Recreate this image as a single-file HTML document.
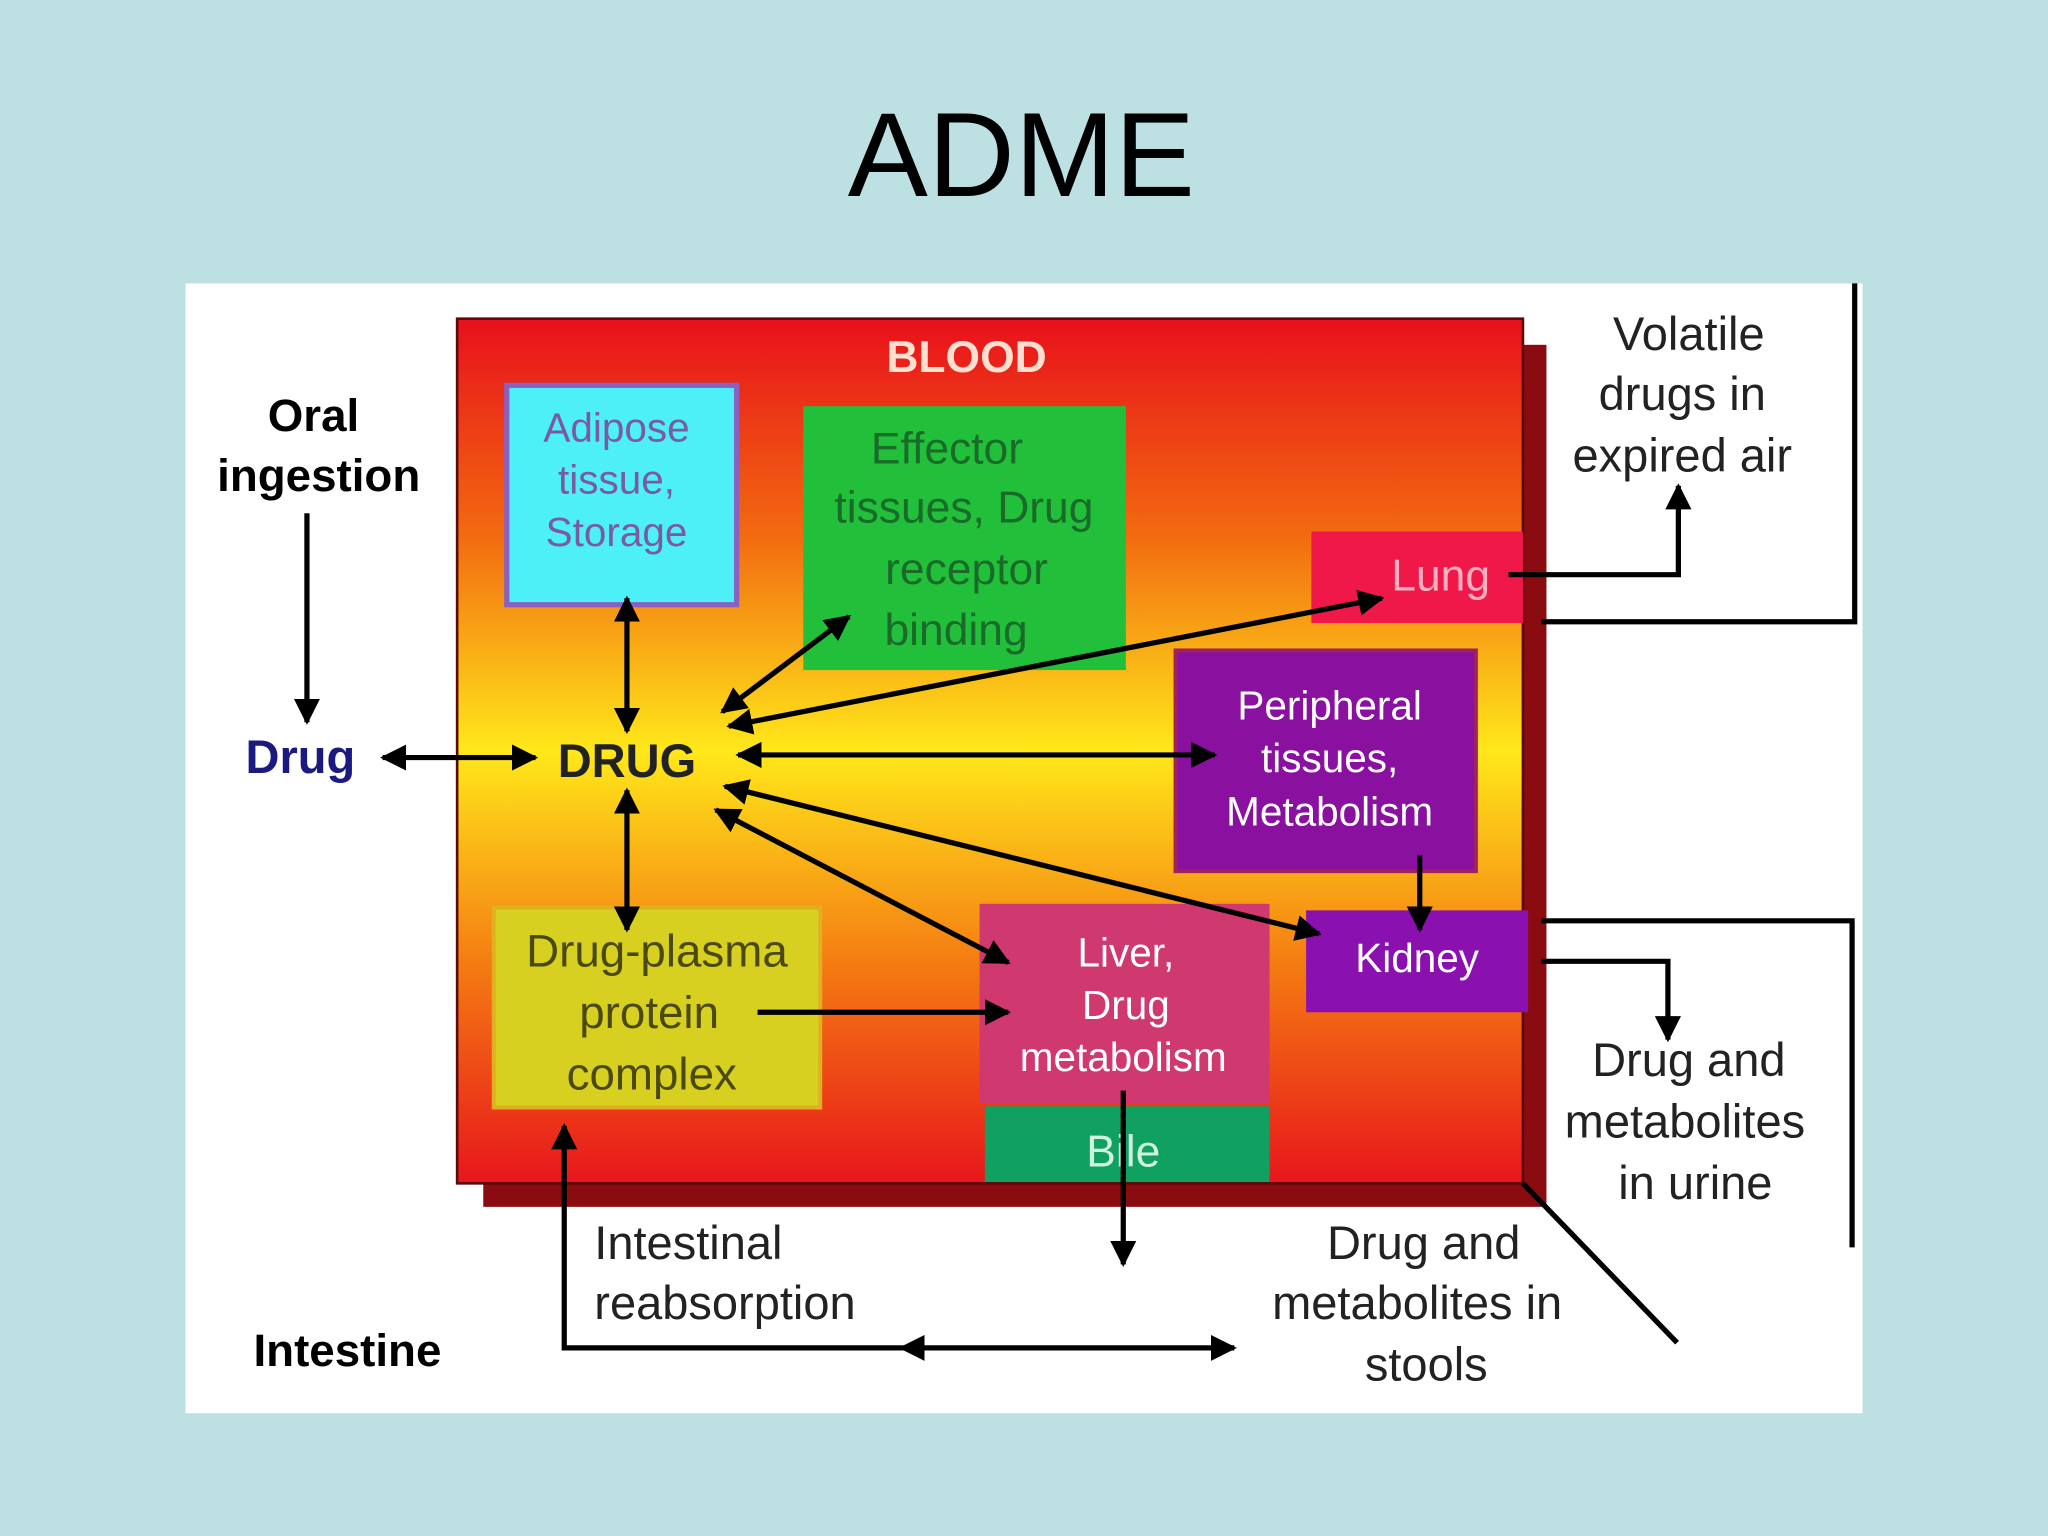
<!DOCTYPE html>
<html><head><meta charset="utf-8"><style>
html,body{margin:0;padding:0;background:#bde0e3;}
svg{display:block;}
text{font-family:"Liberation Sans",sans-serif;}
</style></head><body>
<svg width="2048" height="1536" viewBox="0 0 1568 1176" xmlns="http://www.w3.org/2000/svg">
<defs>
<linearGradient id="bg" x1="0" y1="0" x2="0" y2="1">
<stop offset="0" stop-color="#e8101c"/>
<stop offset="0.25" stop-color="#f26a10"/>
<stop offset="0.5" stop-color="#ffe81a"/>
<stop offset="0.75" stop-color="#f47a12"/>
<stop offset="1" stop-color="#e8161c"/>
</linearGradient>
<marker id="a" viewBox="0 0 10 10" refX="9" refY="5" markerWidth="5" markerHeight="5" orient="auto-start-reverse"><path d="M0,0 L10,5 L0,10 z" fill="#000"/></marker>
</defs>
<rect width="1568" height="1176" fill="#bde0e3"/>
<text x="782" y="150" font-size="92" text-anchor="middle" fill="#000">ADME</text>
<rect x="142" y="217" width="1284" height="865" fill="#fff"/>
<!-- blood box -->
<rect x="370" y="264" width="814" height="660" fill="#8a0c10"/>
<rect x="350" y="244" width="816" height="662" fill="url(#bg)" stroke="#5a0a0a" stroke-width="2"/>
<text x="740" y="285" font-size="34" font-weight="bold" fill="#ffe0d0" text-anchor="middle">BLOOD</text>
<!-- boxes -->
<rect x="388" y="295" width="176" height="168" fill="#4ef0f8" stroke="#8a60c0" stroke-width="4"/>
<g font-size="31" fill="#7a5aa0" text-anchor="middle"><text x="472" y="338">Adipose</text><text x="472" y="378">tissue,</text><text x="472" y="418">Storage</text></g>
<rect x="615" y="311" width="247" height="202" fill="#22c03a"/>
<g font-size="34" fill="#1a6a2a" text-anchor="middle"><text x="725" y="355">Effector</text><text x="738" y="400">tissues, Drug</text><text x="740" y="447">receptor</text><text x="732" y="494">binding</text></g>
<rect x="1004" y="407" width="162" height="70" fill="#f01848"/>
<text x="1103" y="452" font-size="34" fill="#ffb0c0" text-anchor="middle">Lung</text>
<rect x="900" y="498" width="230" height="169" fill="#8a10a0" stroke="#a02060" stroke-width="3"/>
<g font-size="31" fill="#fff" text-anchor="middle"><text x="1018" y="551">Peripheral</text><text x="1018" y="591">tissues,</text><text x="1018" y="632">Metabolism</text></g>
<rect x="1000" y="697" width="170" height="78" fill="#8a10b0"/>
<text x="1085" y="744" font-size="31" fill="#fff" text-anchor="middle">Kidney</text>
<rect x="750" y="692" width="222" height="153" fill="#d03870"/>
<g font-size="31" fill="#fff" text-anchor="middle"><text x="862" y="740">Liver,</text><text x="862" y="780">Drug</text><text x="860" y="820">metabolism</text></g>
<rect x="754" y="847" width="218" height="58" fill="#10a060"/>
<text x="860" y="893" font-size="34" fill="#d0f0e0" text-anchor="middle">Bile</text>
<rect x="378" y="695" width="250" height="153" fill="#d8d020" stroke="#e0b020" stroke-width="3"/>
<g font-size="35" fill="#4a4a10" text-anchor="middle"><text x="503" y="740">Drug-plasma</text><text x="497" y="787">protein</text><text x="499" y="834">complex</text></g>
<!-- labels -->
<g font-size="35" fill="#000" font-weight="bold" text-anchor="middle"><text x="240" y="330">Oral</text><text x="244" y="376">ingestion</text></g>
<text x="230" y="592" font-size="36" font-weight="bold" fill="#1a1a80" text-anchor="middle">Drug</text>
<text x="480" y="595" font-size="36" font-weight="bold" fill="#222" text-anchor="middle">DRUG</text>
<text x="266" y="1046" font-size="35" font-weight="bold" fill="#000" text-anchor="middle">Intestine</text>
<g font-size="36" fill="#222" text-anchor="middle">
<text x="1293" y="268">Volatile</text><text x="1288" y="314">drugs in</text><text x="1288" y="361">expired air</text>
<text x="1293" y="824">Drug and</text><text x="1290" y="871">metabolites</text><text x="1298" y="918">in urine</text>
<text x="1090" y="964">Drug and</text><text x="1085" y="1010">metabolites in</text><text x="1092" y="1057">stools</text>
</g>
<g font-size="36" fill="#222"><text x="455" y="964">Intestinal</text><text x="455" y="1010">reabsorption</text></g>
<!-- lines -->
<g stroke="#000" stroke-width="4" fill="none">
<line x1="235" y1="393" x2="235" y2="553" marker-end="url(#a)"/>
<line x1="293" y1="580" x2="410" y2="580" marker-start="url(#a)" marker-end="url(#a)"/>
<line x1="480" y1="458" x2="480" y2="560" marker-start="url(#a)" marker-end="url(#a)"/>
<line x1="480" y1="605" x2="480" y2="712" marker-start="url(#a)" marker-end="url(#a)"/>
<line x1="553" y1="545" x2="650" y2="472" marker-start="url(#a)" marker-end="url(#a)"/>
<line x1="558" y1="556" x2="1058" y2="458" marker-start="url(#a)" marker-end="url(#a)"/>
<line x1="565" y1="578" x2="930" y2="578" marker-start="url(#a)" marker-end="url(#a)"/>
<line x1="555" y1="602" x2="1010" y2="715" marker-start="url(#a)" marker-end="url(#a)"/>
<line x1="548" y1="620" x2="772" y2="737" marker-start="url(#a)" marker-end="url(#a)"/>
<line x1="580" y1="775" x2="772" y2="775" marker-end="url(#a)"/>
<line x1="1087" y1="655" x2="1087" y2="712" marker-end="url(#a)"/>
<polyline points="1155,440 1285,440 1285,372" marker-end="url(#a)"/>
<polyline points="1180,736 1277,736 1277,796" marker-end="url(#a)"/>
<line x1="860" y1="835" x2="860" y2="968" marker-end="url(#a)"/>
<polyline points="690,1032 432,1032 432,862" marker-end="url(#a)"/>
<line x1="690" y1="1032" x2="945" y2="1032" marker-start="url(#a)" marker-end="url(#a)"/>
<polyline points="1180,476 1420,476 1420,217"/>
<polyline points="1180,705 1418,705 1418,955"/>
<line x1="1166" y1="906" x2="1284" y2="1028"/>
</g>
</svg>
</body></html>
